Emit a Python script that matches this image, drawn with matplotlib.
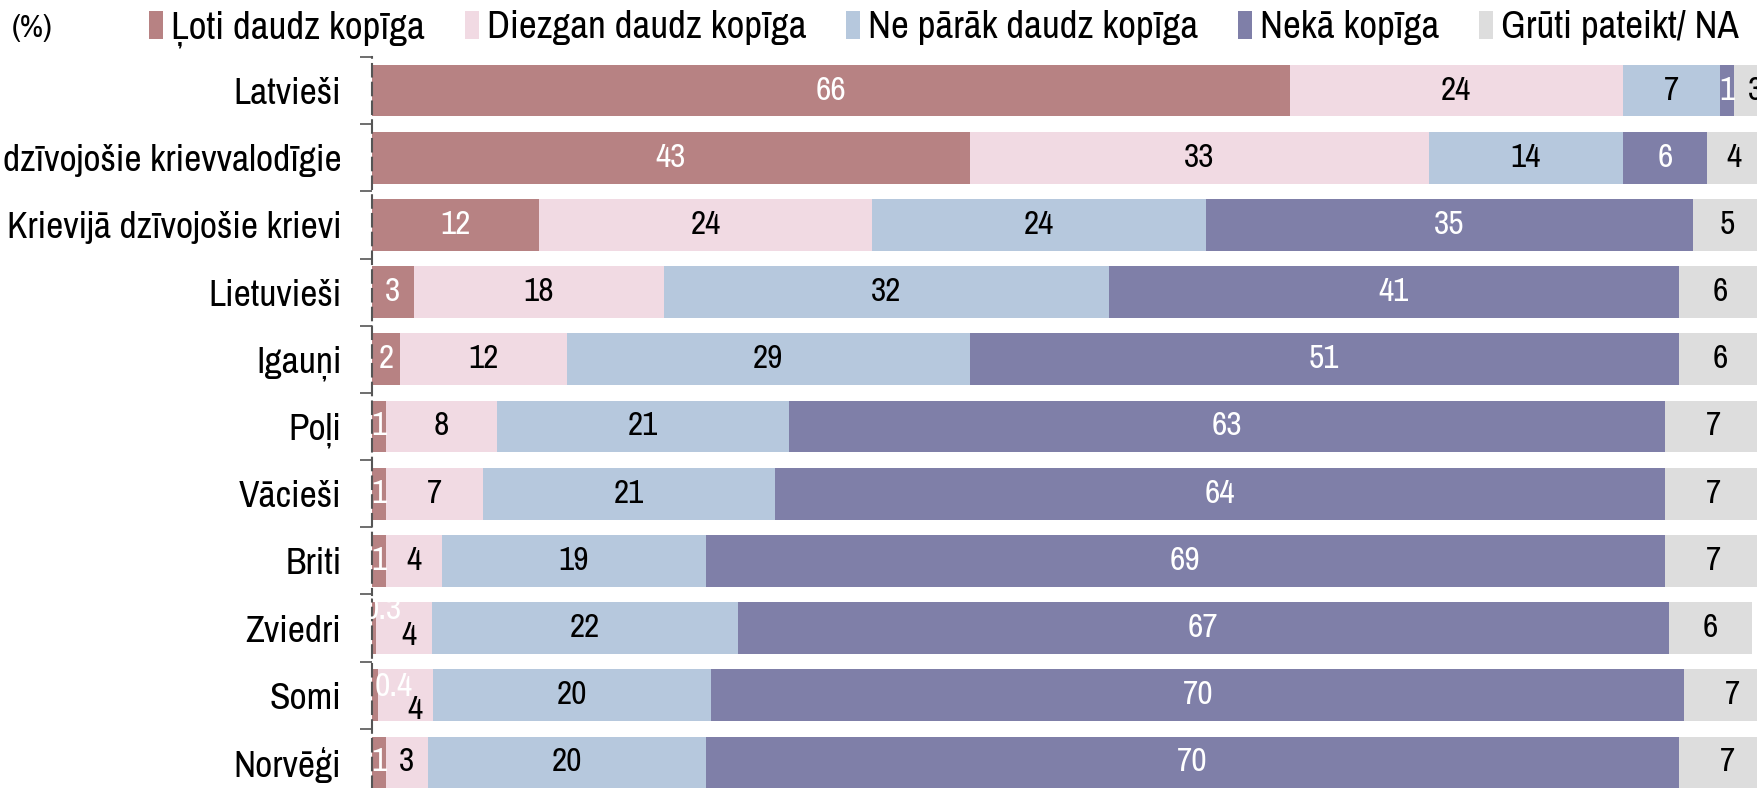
import matplotlib
matplotlib.use("Agg")
import matplotlib.pyplot as plt
import numpy as np

plt.rcParams["font.family"] = ["Archivo Narrow", "Liberation Sans", "DejaVu Sans"]

categories = ["Latvieši", "Latvijā dzīvojošie krievvalodīgie", "Krievijā dzīvojošie krievi",
              "Lietuvieši", "Igauņi", "Poļi", "Vācieši", "Briti", "Zviedri", "Somi", "Norvēģi"]
series_names = ["Ļoti daudz kopīga", "Diezgan daudz kopīga", "Ne pārāk daudz kopīga",
                "Nekā kopīga", "Grūti pateikt/ NA"]
loti = [66, 43, 12, 3, 2, 1, 1, 1, 0.3, 0.4, 1]
diezgan = [24, 33, 24, 18, 12, 8, 7, 4, 4, 4, 3]
ne_parak = [7, 14, 24, 32, 29, 21, 21, 19, 22, 20, 20]
neka = [1, 6, 35, 41, 51, 63, 64, 69, 67, 70, 70]
gruti = [3, 4, 5, 6, 6, 7, 7, 7, 6, 7, 7]

colors = ["#B78283", "#F1DAE3", "#B6C8DD", "#7F7FA8", "#DDDDDD"]
text_colors = ["white", "black", "black", "white", "black"]

# label nudges (row, series) -> (dx, dy) in pixels
nudges = {(8, 0): (9, 18), (8, 1): (5, -8), (9, 0): (19, 8), (9, 1): (10, -15)}

fig = plt.figure(figsize=(17.58, 7.88), dpi=100)
ax = fig.add_axes([372 / 1758, -8 / 788, 1386 / 1758, 739 / 788])

data = [loti, diezgan, ne_parak, neka, gruti]
y = np.arange(len(categories))
left = np.zeros(len(categories))
handles = []
for i, vals in enumerate(data):
    vals = np.array(vals, dtype=float)
    bars = ax.barh(y, vals, left=left, height=0.77, color=colors[i], label=series_names[i])
    handles.append(bars)
    for r, v in enumerate(vals):
        lbl = f"{v:g}"
        dx, dy = nudges.get((r, i), (0, 0))
        ax.annotate(lbl, (left[r] + v / 2, r), xytext=(dx * 0.72, dy * 0.72),
                    textcoords="offset points", ha="center", va="center",
                    fontsize=24, color=text_colors[i], annotation_clip=False)
    left += vals

ax.set_xlim(0, 99.7)
ax.set_ylim(len(categories) - 0.5, -0.5)
ax.set_yticks(y)
ax.set_yticklabels(categories, fontsize=27)
ax.set_yticks(np.arange(len(categories) + 1) - 0.5, minor=True)
ax.tick_params(axis="y", which="major", length=0, pad=22)
ax.tick_params(axis="y", which="minor", length=9, width=1.2, color="#555555")
ax.set_xticks([])
for s in ["top", "right", "bottom"]:
    ax.spines[s].set_visible(False)
ax.spines["left"].set_linestyle((0, (6, 3)))
ax.spines["left"].set_color("#555555")
ax.spines["left"].set_linewidth(1.5)

fig.text(12 / 1758, 1 - 28 / 788, "(%)", fontsize=23, va="center", ha="left")
fig.legend(handles=handles, loc="center left", bbox_to_anchor=(149 / 1758, 1 - 29 / 788),
           ncol=5, frameon=False, fontsize=28, handlelength=0.37, handleheight=0.72,
           handletextpad=0.2, columnspacing=1.02, borderaxespad=0, borderpad=0)

fig.savefig("out.png", dpi=100)
